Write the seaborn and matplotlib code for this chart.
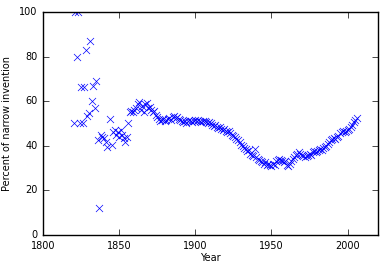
import numpy as np
import pandas as pd
import matplotlib
matplotlib.use("Agg")
import matplotlib.pyplot as plt
import seaborn as sns

# early, irregular years
early_years = [1821, 1823, 1822, 1828, 1831, 1825, 1827, 1833, 1835, 1832, 1834,
               1830, 1829, 1820, 1824, 1826, 1836, 1837, 1838, 1839, 1840, 1841,
               1842, 1844, 1845, 1846, 1847, 1848, 1849, 1850, 1851, 1852, 1853,
               1854, 1855, 1856]
early_vals = [100, 100, 80, 83, 87, 66.5, 66.5, 67, 69, 60, 57,
              54.5, 53.5, 50, 50, 50, 42.5, 12, 44.8, 44, 43.5, 41.8,
              39.6, 52, 40.4, 46.3, 47, 44.8, 46.3, 44, 47, 44.8, 43.4,
              41.8, 44, 50]

# yearly from 1857 on
late_years = list(range(1857, 2007))
late_vals = [55, 55.5, 55, 56, 57, 58.5, 59.5, 56, 58, 55,
             58.5, 59, 57, 57.5, 56, 55, 55.5, 54, 53, 52,
             51, 51.5, 52, 51, 51.5, 52, 52.5, 51.5, 53, 53.5,
             52.5, 53, 52, 51.5, 51, 50.5, 51, 50, 51, 51.5,
             51, 50.5, 51, 51.5, 51, 51.5, 51, 50.5, 51, 51,
             50.5, 50, 50.5, 50, 49.5, 49, 49.5, 48.5, 48, 48.5,
             47.5, 47, 47.5, 46.5, 46, 46.5, 45.5, 45, 44.5, 44,
             43, 42.5, 41.5, 40.5, 40, 39, 38.5, 37.5, 38, 36.5,
             36, 35.5, 38.5, 35, 34, 33.5, 33, 32.5, 32, 32.5,
             31.5, 32, 31.5, 31, 32, 31.5, 33, 33.5, 34, 33.5,
             33, 32.5, 33, 31.5, 31, 32, 33, 34, 35, 36,
             36.5, 37, 36.5, 36, 35.5, 35, 35.5, 36, 36.5, 36,
             37, 37.5, 37, 37.5, 38, 38.5, 38, 39, 39.5, 40,
             41, 41.5, 42.5, 43, 43.5, 43, 44, 44.5, 45.5, 46,
             46.5, 46, 46.5, 47, 47.5, 48.5, 49.5, 50.5, 51.5, 52.5]

df = pd.DataFrame({"Year": early_years + late_years,
                   "Percent": early_vals + late_vals})

plt.style.use("classic")
plt.rcParams["font.size"] = 7
plt.rcParams["figure.facecolor"] = "white"
plt.rcParams["savefig.facecolor"] = "white"

fig = plt.figure(figsize=(3.85, 2.71), dpi=100)
ax = fig.add_axes([0.112, 0.133, 0.87, 0.823])

sns.scatterplot(data=df, x="Year", y="Percent", marker="x", color="blue",
                s=26, linewidth=0.5, ax=ax)

ax.set_xlim(1800, 2020)
ax.set_ylim(0, 100)
ax.set_xticks([1800, 1850, 1900, 1950, 2000])
ax.set_yticks([0, 20, 40, 60, 80, 100])
ax.tick_params(labelsize=7, direction="in", length=4)
ax.set_xlabel("Year", fontsize=7, labelpad=2)
ax.set_ylabel("Percent of narrow invention", fontsize=7)

fig.savefig("out.png", dpi=100)
